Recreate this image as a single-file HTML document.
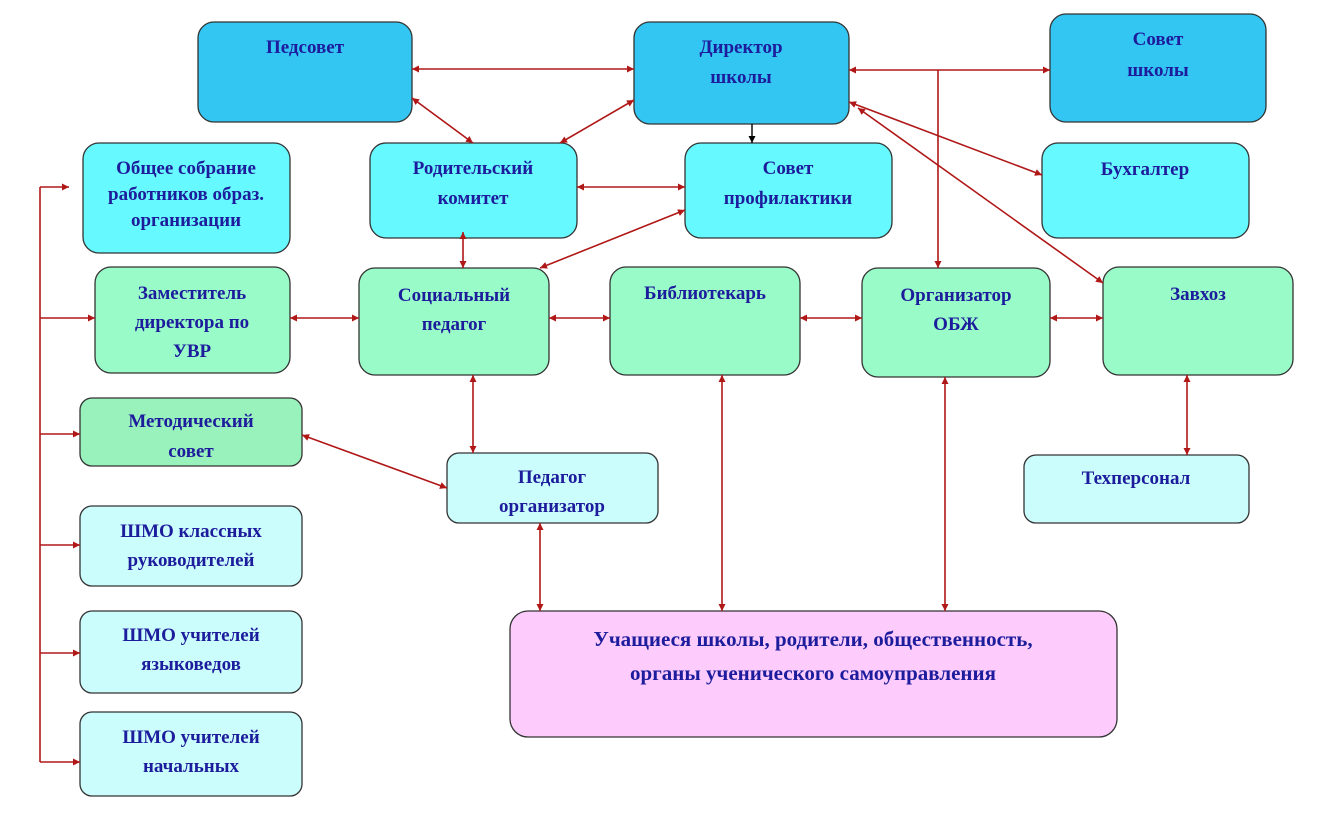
<!DOCTYPE html>
<html><head><meta charset="utf-8"><style>
html,body{margin:0;padding:0;background:#fff}
svg text{font-family:"Liberation Serif","DejaVu Serif",serif;font-weight:bold;font-size:19px;fill:#1c1c9c;text-anchor:middle}
</style></head><body>
<svg width="1336" height="835" viewBox="0 0 1336 835" xmlns="http://www.w3.org/2000/svg">
<defs>
<marker id="a" viewBox="0 0 10 10" refX="10" refY="5" markerWidth="9" markerHeight="7" orient="auto-start-reverse" markerUnits="userSpaceOnUse"><path d="M0,0 L10,5 L0,10 z" fill="#b01818"/></marker>
<marker id="b" viewBox="0 0 10 10" refX="10" refY="5" markerWidth="9" markerHeight="7" orient="auto" markerUnits="userSpaceOnUse"><path d="M0,0 L10,5 L0,10 z" fill="#000"/></marker>
</defs>
<g stroke="#333" stroke-width="1.3">
<rect x="198" y="22" width="214" height="100" rx="16" fill="#33c6f3"/>
<rect x="634" y="22" width="215" height="102" rx="16" fill="#33c6f3"/>
<rect x="1050" y="14" width="216" height="108" rx="16" fill="#33c6f3"/>
<rect x="83" y="143" width="207" height="110" rx="16" fill="#66f9ff"/>
<rect x="370" y="143" width="207" height="95" rx="16" fill="#66f9ff"/>
<rect x="685" y="143" width="207" height="95" rx="16" fill="#66f9ff"/>
<rect x="1042" y="143" width="207" height="95" rx="16" fill="#66f9ff"/>
<rect x="95" y="267" width="195" height="106" rx="16" fill="#99fcc8"/>
<rect x="359" y="268" width="190" height="107" rx="16" fill="#99fcc8"/>
<rect x="610" y="267" width="190" height="108" rx="16" fill="#99fcc8"/>
<rect x="862" y="268" width="188" height="109" rx="16" fill="#99fcc8"/>
<rect x="1103" y="267" width="190" height="108" rx="16" fill="#99fcc8"/>
<rect x="80" y="398" width="222" height="68" rx="12" fill="#99f2bb"/>
<rect x="447" y="453" width="211" height="70" rx="12" fill="#ccfdfd"/>
<rect x="1024" y="455" width="225" height="68" rx="12" fill="#ccfdfd"/>
<rect x="80" y="506" width="222" height="80" rx="12" fill="#ccfdfd"/>
<rect x="80" y="611" width="222" height="82" rx="12" fill="#ccfdfd"/>
<rect x="80" y="712" width="222" height="84" rx="12" fill="#ccfdfd"/>
<rect x="510" y="611" width="607" height="126" rx="18" fill="#fdccfd"/>
</g>
<g stroke="#b01818" stroke-width="1.6" fill="none">
<path d="M40,187 V762"/>
<path d="M40,187 H69" marker-end="url(#a)"/>
<path d="M40,318 H95" marker-end="url(#a)"/>
<path d="M40,434 H80" marker-end="url(#a)"/>
<path d="M40,545 H80" marker-end="url(#a)"/>
<path d="M40,653 H80" marker-end="url(#a)"/>
<path d="M40,762 H80" marker-end="url(#a)"/>
<path d="M412,69 H634" marker-start="url(#a)" marker-end="url(#a)"/>
<path d="M412,98 L473,143" marker-start="url(#a)" marker-end="url(#a)"/>
<path d="M634,100 L560,143" marker-start="url(#a)" marker-end="url(#a)"/>
<path d="M577,187 H685" marker-start="url(#a)" marker-end="url(#a)"/>
<path d="M463,232 V268" marker-start="url(#a)" marker-end="url(#a)"/>
<path d="M540,268 L685,210" marker-start="url(#a)" marker-end="url(#a)"/>
<path d="M849,70 H1050" marker-start="url(#a)" marker-end="url(#a)"/>
<path d="M938,70 V268" marker-end="url(#a)"/>
<path d="M849,102 L1042,175" marker-start="url(#a)" marker-end="url(#a)"/>
<path d="M858,108 L1103,283" marker-start="url(#a)" marker-end="url(#a)"/>
<path d="M290,318 H359" marker-start="url(#a)" marker-end="url(#a)"/>
<path d="M549,318 H610" marker-start="url(#a)" marker-end="url(#a)"/>
<path d="M800,318 H862" marker-start="url(#a)" marker-end="url(#a)"/>
<path d="M1050,318 H1103" marker-start="url(#a)" marker-end="url(#a)"/>
<path d="M473,375 V453" marker-start="url(#a)" marker-end="url(#a)"/>
<path d="M302,435 L447,488" marker-start="url(#a)" marker-end="url(#a)"/>
<path d="M540,523 V611" marker-start="url(#a)" marker-end="url(#a)"/>
<path d="M722,375 V611" marker-start="url(#a)" marker-end="url(#a)"/>
<path d="M945,377 V611" marker-start="url(#a)" marker-end="url(#a)"/>
<path d="M1187,375 V455" marker-start="url(#a)" marker-end="url(#a)"/>
</g>
<path d="M752,124 V143" stroke="#000" stroke-width="1.4" marker-end="url(#b)"/>
<text x="305" y="53">Педсовет</text>
<text x="741" y="53">Директор</text>
<text x="741" y="83">школы</text>
<text x="1158" y="45">Совет</text>
<text x="1158" y="76">школы</text>
<text x="186" y="174">Общее собрание</text>
<text x="186" y="200">работников образ.</text>
<text x="186" y="226">организации</text>
<text x="473" y="174">Родительский</text>
<text x="473" y="204">комитет</text>
<text x="788" y="174">Совет</text>
<text x="788" y="204">профилактики</text>
<text x="1145" y="175">Бухгалтер</text>
<text x="192" y="299">Заместитель</text>
<text x="192" y="328">директора по</text>
<text x="192" y="357">УВР</text>
<text x="454" y="301">Социальный</text>
<text x="454" y="330">педагог</text>
<text x="705" y="299">Библиотекарь</text>
<text x="956" y="301">Организатор</text>
<text x="956" y="330">ОБЖ</text>
<text x="1198" y="300">Завхоз</text>
<text x="191" y="427">Методический</text>
<text x="191" y="457">совет</text>
<text x="552" y="483">Педагог</text>
<text x="552" y="512">организатор</text>
<text x="1136" y="484">Техперсонал</text>
<text x="191" y="537">ШМО классных</text>
<text x="191" y="566">руководителей</text>
<text x="191" y="641">ШМО учителей</text>
<text x="191" y="670">языковедов</text>
<text x="191" y="743">ШМО учителей</text>
<text x="191" y="772">начальных</text>
<text x="813" y="646" style="font-size:21px">Учащиеся школы, родители, общественность,</text>
<text x="813" y="680" style="font-size:21px">органы ученического самоуправления</text>
</svg>
</body></html>
